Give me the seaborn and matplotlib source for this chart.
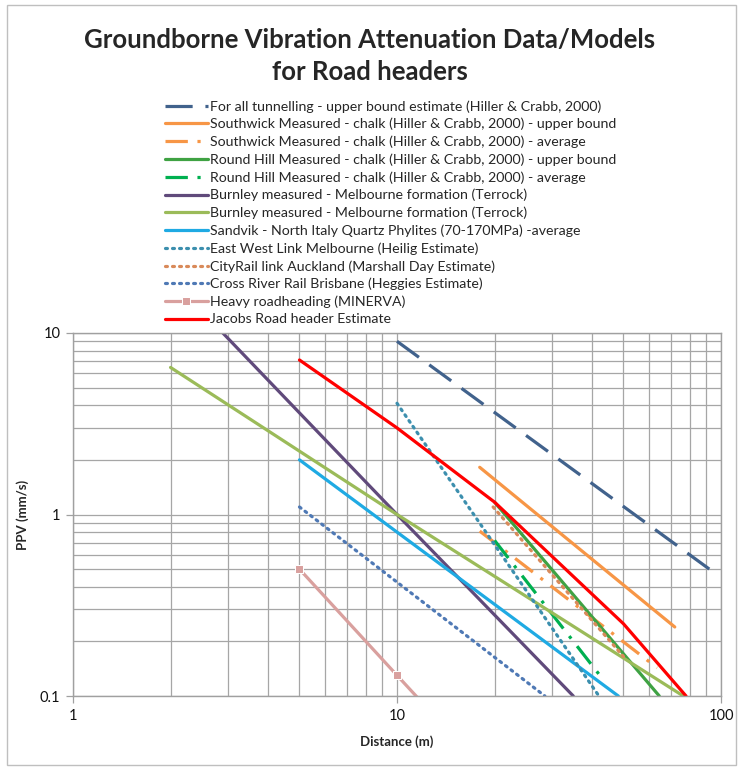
import matplotlib
matplotlib.use("Agg")
import matplotlib.pyplot as plt
import seaborn as sns
import pandas as pd
from matplotlib.patches import Rectangle
from matplotlib.ticker import FixedLocator, LogLocator, NullFormatter, FixedFormatter

# ---------------- data ----------------
title = "Groundborne Vibration Attenuation Data/Models\nfor Road headers"

tunnel_ub_x = [10, 95]
tunnel_ub_y = [9.0, 0.48]

southwick_ub_x = [18, 72]
southwick_ub_y = [1.82, 0.24]

southwick_avg_x = [18, 63.5]
southwick_avg_y = [0.81, 0.143]

roundhill_ub_x = [20, 64.5]
roundhill_ub_y = [1.17, 0.1]

roundhill_avg_x = [20, 43]
roundhill_avg_y = [0.72, 0.125]

burnley1_x = [2.9, 10, 35]
burnley1_y = [10.0, 1.0, 0.1]

burnley2_x = [2, 10, 76.5]
burnley2_y = [6.46, 1.0, 0.1]

sandvik_x = [5, 48.2]
sandvik_y = [2.0, 0.1]

eastwest_x = [10, 42]
eastwest_y = [4.1, 0.1]

cityrail_x = [19.8, 50]
cityrail_y = [1.1, 0.165]

crossriver_x = [5, 28.6]
crossriver_y = [1.1, 0.1]

minerva_x = [5, 10, 20]
minerva_y = [0.5, 0.13, 0.034]

jacobs_x = [5, 10, 20, 50, 78]
jacobs_y = [7.1, 3.0, 1.17, 0.25, 0.1]

labels = [
    "For all tunnelling - upper bound estimate (Hiller & Crabb, 2000)",
    "Southwick Measured - chalk (Hiller & Crabb, 2000) - upper bound",
    "Southwick Measured - chalk (Hiller & Crabb, 2000) - average",
    "Round Hill Measured - chalk (Hiller & Crabb, 2000) - upper bound",
    "Round Hill Measured - chalk (Hiller & Crabb, 2000) - average",
    "Burnley measured - Melbourne formation (Terrock)",
    "Burnley measured - Melbourne formation (Terrock)",
    "Sandvik - North Italy Quartz Phylites (70-170MPa) -average",
    "East West Link Melbourne (Heilig Estimate)",
    "CityRail link Auckland (Marshall Day Estimate)",
    "Cross River Rail Brisbane (Heggies Estimate)",
    "Heavy roadheading (MINERVA)",
    "Jacobs Road header Estimate",
]

x_ticks = [1, 10, 100]
x_tick_labels = ["1", "10", "100"]
y_ticks = [0.1, 1, 10]
y_tick_labels = ["0.1", "1", "10"]

# ---------------- style ----------------
sns.set_style("white")
plt.rcParams["font.family"] = ["Lato", "DejaVu Sans"]

fig = plt.figure(figsize=(7.4, 7.67), dpi=100)
ax = fig.add_axes([73 / 740, 1 - 696 / 767, (721 - 73) / 740, (696 - 333) / 767])

LW = 2.3
dashdot = (0, (7, 3, 1, 3))
dotted = (0, (0.6, 1.6))

series = [
    (tunnel_ub_x, tunnel_ub_y, dict(color="#41628C", linestyle=(0, (8.5, 4)))),
    (southwick_ub_x, southwick_ub_y, dict(color="#F79646", linestyle="-")),
    (southwick_avg_x, southwick_avg_y, dict(color="#F79646", linestyle=dashdot)),
    (roundhill_ub_x, roundhill_ub_y, dict(color="#3FA243", linestyle="-")),
    (roundhill_avg_x, roundhill_avg_y, dict(color="#00B050", linestyle=dashdot)),
    (burnley1_x, burnley1_y, dict(color="#604A7B", linestyle="-")),
    (burnley2_x, burnley2_y, dict(color="#9BBB59", linestyle="-")),
    (sandvik_x, sandvik_y, dict(color="#1FAAE3", linestyle="-")),
    (eastwest_x, eastwest_y, dict(color="#3C8FAE", linestyle=dotted, dash_capstyle="round")),
    (cityrail_x, cityrail_y, dict(color="#D98A5A", linestyle=dotted, dash_capstyle="round")),
    (crossriver_x, crossriver_y, dict(color="#4F79B5", linestyle=dotted, dash_capstyle="round")),
    (minerva_x, minerva_y, dict(color="#D9A09E", linestyle="-", marker="s", markersize=6)),
    (jacobs_x, jacobs_y, dict(color="#FF0000", linestyle="-")),
]

for (xs, ys, kw), lab in zip(series, labels):
    df = pd.DataFrame({"Distance": xs, "PPV": ys})
    sns.lineplot(data=df, x="Distance", y="PPV", ax=ax, linewidth=LW, label=lab,
                 legend=False, sort=False, **kw)

ax.set_xscale("log")
ax.set_yscale("log")
ax.set_xlim(1, 100)
ax.set_ylim(0.1, 10)

ax.xaxis.set_major_locator(FixedLocator(x_ticks))
ax.xaxis.set_major_formatter(FixedFormatter(x_tick_labels))
ax.yaxis.set_major_locator(FixedLocator(y_ticks))
ax.yaxis.set_major_formatter(FixedFormatter(y_tick_labels))
ax.xaxis.set_minor_locator(LogLocator(base=10, subs=range(2, 10)))
ax.yaxis.set_minor_locator(LogLocator(base=10, subs=range(2, 10)))
ax.xaxis.set_minor_formatter(NullFormatter())
ax.yaxis.set_minor_formatter(NullFormatter())

ax.grid(True, which="both", color="#A6A6A6", linewidth=0.9)
ax.set_axisbelow(True)
for sp in ax.spines.values():
    sp.set_color("#A0A0A0")
    sp.set_linewidth(1.0)
ax.tick_params(axis="both", which="major", direction="out", length=5, width=0.9,
               color="#A0A0A0", labelsize=10.5, labelcolor="#111111", pad=4,
               left=True, bottom=True)
ax.tick_params(axis="both", which="minor", length=0)

ax.set_xlabel("Distance (m)", fontsize=9.5, fontweight="bold", labelpad=9)
ax.set_ylabel("PPV (mm/s)", fontsize=9.5, fontweight="bold", labelpad=8)

handles, labs = ax.get_legend_handles_labels()
leg = fig.legend(handles, labs, loc="upper left",
                 bbox_to_anchor=(165 / 740, 1 - 100 / 767),
                 frameon=False, fontsize=10.2, handlelength=3.0,
                 handletextpad=0.15, labelspacing=0.37, borderaxespad=0,
                 borderpad=0)

fig.text(0.5, 1 - 56 / 767, title, ha="center", va="center", fontsize=18.5,
         fontweight="bold", linespacing=1.4)

fig.patches.append(Rectangle((7 / 740, 2 / 767), 729 / 740, 760 / 767,
                             transform=fig.transFigure, fill=False,
                             edgecolor="#BFBFBF", linewidth=1.0))

fig.savefig("out.png", dpi=100)
